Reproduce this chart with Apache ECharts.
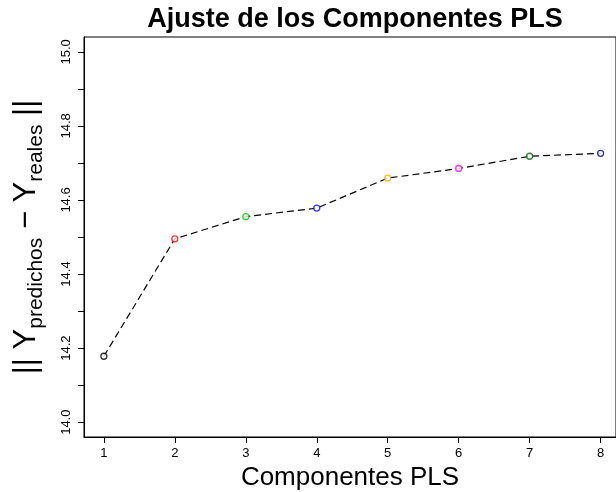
<!DOCTYPE html>
<html>
<head>
<meta charset="utf-8">
<script src="https://cdn.jsdelivr.net/npm/echarts@6/dist/echarts.min.js"></script>
<style>
  html, body { margin: 0; padding: 0; background: #fff; }
  #chart { width: 616px; height: 492px; }
</style>
</head>
<body>
<div id="chart"></div>
<script>
// Number of PLS components and the fit error for each model
const components = [1, 2, 3, 4, 5, 6, 7, 8];
const errorNorm = [14.178, 14.495, 14.555, 14.578, 14.659, 14.685, 14.718, 14.726];
const pointColors = ['#000000', '#FF0000', '#00CD00', '#0000FF', '#FFA500', '#FF00FF', '#006400', '#000080'];

// Axis ticks and labels
const xTicks = [1, 2, 3, 4, 5, 6, 7, 8];
const yTicks = [14.0, 14.1, 14.2, 14.3, 14.4, 14.5, 14.6, 14.7, 14.8, 14.9, 15.0];
const yLabels = [14.0, 14.2, 14.4, 14.6, 14.8, 15.0];

const FONT = 'Liberation Sans, Arial, Helvetica, sans-serif';

const chart = echarts.init(document.getElementById('chart'), null, { renderer: 'canvas' });

const linePoints = components.map((c, i) => [c, errorNorm[i]]);
const scatterPoints = components.map((c, i) => ({
  value: [c, errorNorm[i]],
  itemStyle: { color: '#ffffff', borderColor: pointColors[i], borderWidth: 1.3 }
}));

chart.setOption({
  animation: false,
  backgroundColor: '#ffffff',
  title: {
    text: 'Ajuste de los Componentes PLS',
    left: 350,
    top: 1,
    textAlign: 'center',
    textStyle: { fontFamily: FONT, fontSize: 27, fontWeight: 'bold', color: '#000' }
  },
  grid: {
    left: 84, right: 0, top: 37, bottom: 55,
    outerBoundsMode: 'none',
    containLabel: false,
    show: true, borderColor: '#000', borderWidth: 1, backgroundColor: 'transparent'
  },
  xAxis: {
    type: 'value',
    min: 0.72,
    max: 8.217,
    name: 'Componentes PLS',
    nameLocation: 'middle',
    nameGap: 22,
    nameTextStyle: { fontFamily: FONT, fontSize: 26, color: '#000' },
    splitLine: { show: false },
    axisLine: { show: true, onZero: false, lineStyle: { color: '#000', width: 1 } },
    axisTick: { show: true, length: 6, customValues: xTicks, lineStyle: { color: '#000' } },
    axisLabel: {
      customValues: xTicks, margin: 10,
      fontFamily: FONT, fontSize: 13, color: '#000'
    }
  },
  yAxis: {
    type: 'value',
    min: 13.96,
    max: 15.04,
    name: '{m||| Y}{s|predichos}{m| − Y}{s|reales}{m| ||}',
    nameLocation: 'middle',
    nameRotate: 90,
    nameGap: 37,
    nameTextStyle: {
      fontFamily: FONT, color: '#000',
      rich: {
        m: { fontFamily: FONT, fontSize: 31, color: '#000', lineHeight: 42, verticalAlign: 'middle' },
        s: { fontFamily: FONT, fontSize: 21, color: '#000', lineHeight: 42, verticalAlign: 'bottom' }
      }
    },
    splitLine: { show: false },
    axisLine: { show: true, onZero: false, lineStyle: { color: '#000', width: 1 } },
    axisTick: { show: true, length: 6, customValues: yTicks, lineStyle: { color: '#000' } },
    axisLabel: {
      customValues: yLabels, rotate: 90, margin: 11,
      fontFamily: FONT, fontSize: 13, color: '#000',
      formatter: v => v.toFixed(1)
    }
  },
  series: [
    {
      type: 'line',
      data: linePoints,
      symbol: 'none',
      lineStyle: { color: '#000', width: 1.2, type: [7, 4] },
      z: 2
    },
    {
      type: 'scatter',
      data: scatterPoints,
      symbol: 'circle',
      symbolSize: 6,
      z: 3
    }
  ]
});
</script>
</body>
</html>
